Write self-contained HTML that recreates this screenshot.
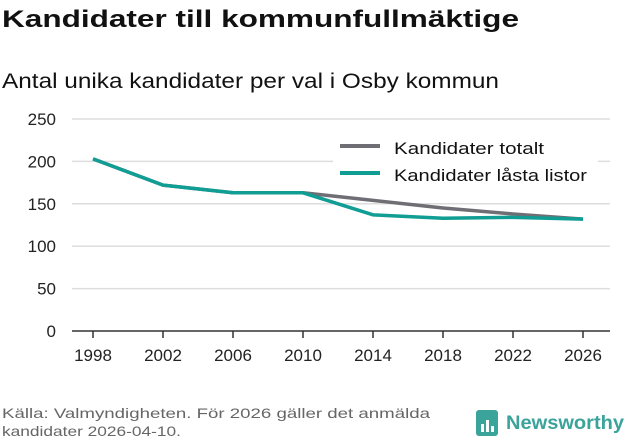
<!DOCTYPE html>
<html><head><meta charset="utf-8"><style>
body{margin:0;background:#fff;width:631px;height:439px;overflow:hidden;font-family:"Liberation Sans","DejaVu Sans",sans-serif}
</style></head><body>
<svg width="631" height="439">
<text x="2" y="27" font-size="24" font-weight="bold" fill="#111" textLength="517" lengthAdjust="spacingAndGlyphs">Kandidater till kommunfullmäktige</text>
<text x="2" y="88" font-size="21" fill="#111" textLength="497" lengthAdjust="spacingAndGlyphs">Antal unika kandidater per val i Osby kommun</text>
<g id="grid"></g><g id="yt"></g><g id="xt"></g><g id="lines"></g>
<rect x="333" y="127" width="265" height="65" fill="#fff"/>
<line x1="340" y1="146" x2="380" y2="146" stroke="#6f6e75" stroke-width="4"/>
<text x="394" y="154" font-size="17" fill="#111" textLength="150" lengthAdjust="spacingAndGlyphs">Kandidater totalt</text>
<line x1="340" y1="173" x2="380" y2="173" stroke="#0f9d94" stroke-width="4"/>
<text x="394" y="181" font-size="17" fill="#111" textLength="193" lengthAdjust="spacingAndGlyphs">Kandidater låsta listor</text>
<text x="2" y="418" font-size="14" fill="#666" textLength="428" lengthAdjust="spacingAndGlyphs">Källa: Valmyndigheten. För 2026 gäller det anmälda</text>
<text x="2" y="436" font-size="14" fill="#666" textLength="179" lengthAdjust="spacingAndGlyphs">kandidater 2026-04-10.</text>
<g>
<rect x="476" y="410" width="22" height="26" rx="3" fill="#3aa39a"/>
<rect x="481" y="424" width="3" height="8" fill="#fff"/><rect x="486" y="420" width="3" height="12" fill="#fff"/><rect x="491" y="426" width="3" height="6" fill="#fff"/>
<text x="506" y="429" font-size="19" font-weight="bold" fill="#3aa39a" textLength="118" lengthAdjust="spacingAndGlyphs">Newsworthy</text>
</g>
</svg>
<script>
const years=[1998,2002,2006,2010,2014,2018,2022,2026];
const totalt=[203,172,163,163,154,145,138,132];
const lasta=[203,172,163,163,137,133,134,132];
const yTicks=[0,50,100,150,200,250];
const NS="http://www.w3.org/2000/svg";
const x=v=>93+(v-1998)*17.5, y=v=>331-v*0.848;
function mk(t,a,p){const e=document.createElementNS(NS,t);for(const k in a)e.setAttribute(k,a[k]);document.getElementById(p).appendChild(e);return e;}
yTicks.forEach(t=>{
 if(t>0){const g=mk('line',{x1:72,x2:610,y1:y(t),y2:y(t),stroke:'#ddd','stroke-width':1.5},'grid');
 
 }
 const l=mk('text',{x:56,y:y(t)+6,'font-size':17,fill:'#222','text-anchor':'end'},'yt');l.textContent=t;
 
 
});
const ax=mk('line',{x1:72,x2:610,y1:331,y2:331,stroke:'#333','stroke-width':1.5},'grid');


years.forEach(v=>{
 const tk=mk('line',{x1:x(v),x2:x(v),y1:331,y2:338,stroke:'#333','stroke-width':1.5},'xt');
 
 
 const l=mk('text',{x:x(v),y:361,'font-size':17,fill:'#222','text-anchor':'middle'},'xt');l.textContent=v;
 
 
});
function line(d,c,n){const p=mk('polyline',{points:d.map((v,i)=>x(years[i])+','+y(v)).join(' '),fill:'none',stroke:c,'stroke-width':3.5,'stroke-linejoin':'round'},'lines');
 
 }
line(totalt,'#6f6e75','line-totalt');
line(lasta,'#0f9d94','line-lasta');
</script>
</body></html>
